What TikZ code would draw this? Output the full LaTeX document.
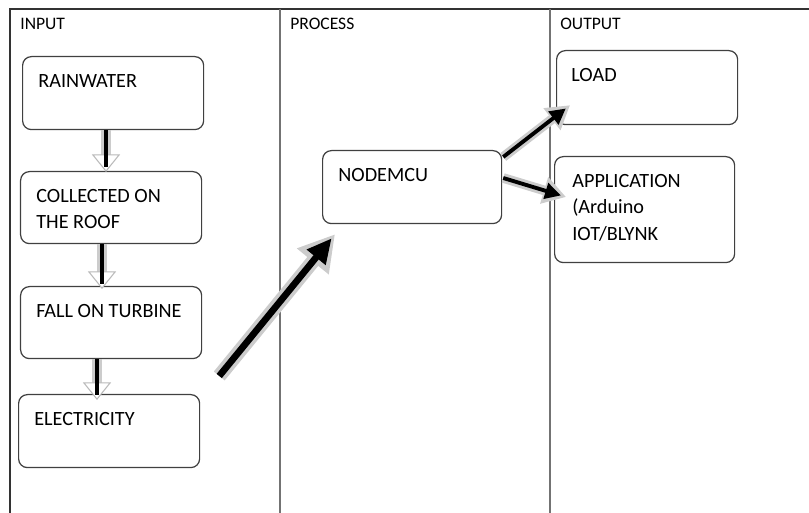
\documentclass[tikz,border=0pt]{standalone}
\usepackage{fontspec}
\setmainfont{Carlito}
\usepackage{tikz}
\usetikzlibrary{arrows.meta,calc,positioning}

\tikzset{
  box/.style={draw=black!75, line width=0.7pt, rounded corners=5pt, anchor=north west,
    minimum width=3.62cm, minimum height=1.46cm},
  txt/.style={anchor=north west, inner sep=0pt, align=left, font=\fontsize{11.5}{15}\selectfont},
  head/.style={anchor=base west, inner sep=0pt, font=\fontsize{10}{12}\selectfont},
  tbl/.style={draw=black!55, line width=0.6pt},
  flow/.style={line width=1.8pt, shorten >=3pt,
    preaction={draw=gray!40, line width=6pt, shorten >=0pt,
      -{Triangle[length=10pt,width=16pt,color=gray!55,fill=white,line width=0.6pt]}}},
  bigflow/.style={line width=3.8pt, shorten >=3pt, -{Triangle[length=14pt,width=13pt]},
    preaction={draw=gray!40, line width=8pt, shorten >=0pt,
      -{Triangle[length=20pt,width=22pt]}}},
  outflow/.style={line width=2.2pt, shorten >=3pt, -{Triangle[length=9pt,width=9pt]},
    preaction={draw=gray!40, line width=5.5pt, shorten >=0pt,
      -{Triangle[length=13pt,width=15pt]}}}
}

\begin{document}
\begin{tikzpicture}
\useasboundingbox (0,0) rectangle (16.18,-10.26);

\draw[black!80, line width=0.6pt] (0.2,-10.26) -- (0.2,-0.18) -- (16.18,-0.18);
\draw[tbl] (5.6,-0.18) -- (5.6,-10.26);
\draw[tbl] (11.0,-0.18) -- (11.0,-10.26);

\node[head] (hin) at (0.4,-0.6) {INPUT};
\node[head] (hpro) at (5.8,-0.6) {PROCESS};
\node[head] (hout) at (11.2,-0.6) {OUTPUT};

\node[box] (rain) at (0.44,-1.12) {};
\node[box, minimum height=1.44cm] (roof) at (0.40,-3.42) {};
\node[box, minimum height=1.44cm] (turb) at (0.40,-5.72) {};
\node[box] (elec) at (0.36,-7.88) {};
\node[box, minimum width=3.58cm] (mcu) at (6.44,-3.0) {};
\node[box, minimum height=1.48cm] (load) at (11.12,-1.0) {};
\node[box, minimum width=3.6cm, minimum height=2.12cm] (app) at (11.08,-3.12) {};

\node[txt] (rainT) at ($(rain.north west)+(0.32,-0.37)$) {RAINWATER};
\node[txt] (roofT) at ($(roof.north west)+(0.32,-0.36)$) {COLLECTED ON\\THE ROOF};
\node[txt] (turbT) at ($(turb.north west)+(0.32,-0.36)$) {FALL ON TURBINE};
\node[txt] (elecT) at ($(elec.north west)+(0.32,-0.37)$) {ELECTRICITY};
\node[txt] (mcuT) at ($(mcu.north west)+(0.32,-0.36)$) {NODEMCU};
\node[txt] (loadT) at ($(load.north west)+(0.30,-0.37)$) {LOAD};
\node[txt] (appT) at ($(app.north west)+(0.36,-0.36)$) {APPLICATION\\(Arduino\\IOT/BLYNK};

\coordinate (a1) at ($(rain.south west)+(1.68,0)$);
\coordinate (a2) at ($(roof.south west)+(1.64,0)$);
\coordinate (a3) at ($(turb.south west)+(1.54,0)$);
\draw[flow] (a1) -- ($(a1 |- roof.north)+(0,-0.02)$);
\draw[flow] (a2) -- ($(a2 |- turb.north)+(0,-0.06)$);
\draw[flow] (a3) -- ($(a3 |- elec.north)+(0,-0.12)$);

\draw[bigflow] ($(elec.north east)+(0.38,0.36)$) -- ($(mcu.south west)+(0.26,-0.2)$);
\draw[outflow] ($(mcu.north east)+(0.02,-0.14)$) -- ($(load.south west)+(0.28,0.40)$);
\draw[outflow] ($(mcu.north east)+(0.02,-0.56)$) -- ($(app.north west)+(0.24,-0.82)$);
\end{tikzpicture}
\end{document}
